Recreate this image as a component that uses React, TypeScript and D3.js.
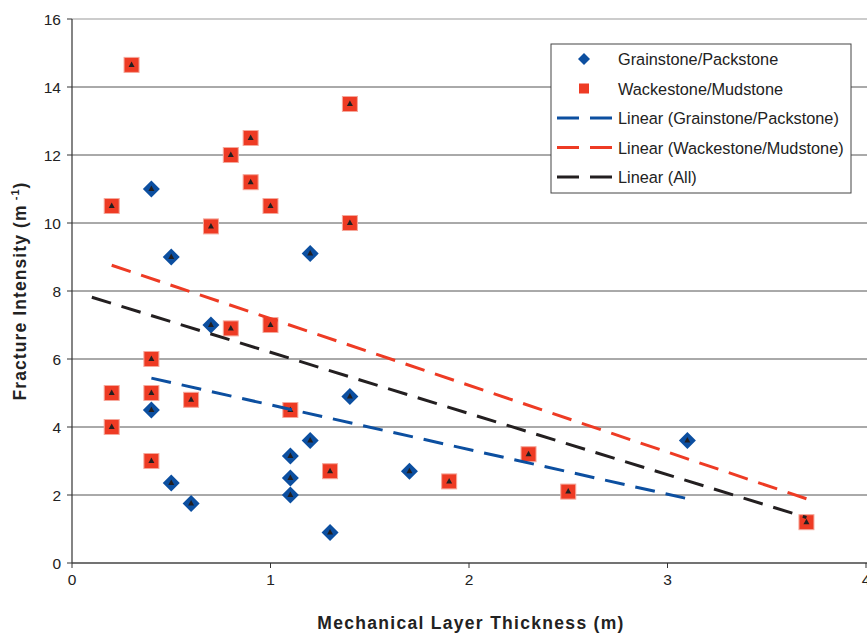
import React from "react";
import * as d3 from "d3";

// Grainstone / Packstone samples: layer thickness (m) and fracture intensity (1/m)
const grainX = [0.4, 0.5, 1.2, 0.7, 0.4, 1.4, 1.2, 1.1, 1.1, 1.1, 0.5, 0.6, 1.3, 1.7, 3.1];
const grainY = [11.0, 9.0, 9.1, 7.0, 4.5, 4.9, 3.6, 3.15, 2.5, 2.0, 2.35, 1.75, 0.9, 2.7, 3.6];

// Wackestone / Mudstone samples
const wackeX = [0.3, 1.4, 0.9, 0.8, 0.9, 0.2, 1.0, 0.7, 1.4, 0.8, 1.0, 0.4, 0.2, 0.4, 0.6, 0.2, 1.1, 0.4, 1.3, 1.9, 2.3, 2.5, 3.7];
const wackeY = [14.65, 13.5, 12.5, 12.0, 11.2, 10.5, 10.5, 9.9, 10.0, 6.9, 7.0, 6.0, 5.0, 5.0, 4.8, 4.0, 4.5, 3.0, 2.7, 2.4, 3.2, 2.1, 1.2];

const xTicks = [0, 1, 2, 3, 4];
const yTicks = [0, 2, 4, 6, 8, 10, 12, 14, 16];

// backward forecast of the combined trend line
const allTrendStart = 0.1;

const BLUE = "#0C4FA0";
const RED = "#EE3B24";
const BLACK = "#231F20";
const FONT = "'Liberation Sans', Arial, sans-serif";

type Pt = { x: number; y: number };

function zip(xs: number[], ys: number[]): Pt[] {
  return xs.map((x, i) => ({ x, y: ys[i] }));
}

function linearFit(pts: Pt[]) {
  const mx = d3.mean(pts, (p) => p.x) as number;
  const my = d3.mean(pts, (p) => p.y) as number;
  const sxy = d3.sum(pts, (p) => (p.x - mx) * (p.y - my));
  const sxx = d3.sum(pts, (p) => (p.x - mx) ** 2);
  const slope = sxy / sxx;
  return { slope, intercept: my - slope * mx };
}

export default function App() {
  const W = 867;
  const H = 633;
  const left = 72;
  const right = 866;
  const top = 19;
  const bottom = 563;

  const x = d3.scaleLinear().domain([0, 4]).range([left, right]);
  const y = d3.scaleLinear().domain([0, 16]).range([bottom, top]);

  const grain = zip(grainX, grainY);
  const wacke = zip(wackeX, wackeY);
  const all = [...grain, ...wacke];

  const trend = (pts: Pt[], x0: number, x1: number) => {
    const f = linearFit(pts);
    return [x0, x1].map((v) => ({ x: v, y: f.intercept + f.slope * v }));
  };
  const line = d3
    .line<Pt>()
    .x((p) => x(p.x))
    .y((p) => y(p.y));

  const grainTrend = trend(grain, d3.min(grainX)!, d3.max(grainX)!);
  const wackeTrend = trend(wacke, d3.min(wackeX)!, d3.max(wackeX)!);
  const allTrend = trend(all, allTrendStart, d3.max([...grainX, ...wackeX])!);

  const dash = "20 11";
  const diamond = (cx: number, cy: number, r = 8.5) =>
    `M${cx},${cy - r}L${cx + r},${cy}L${cx},${cy + r}L${cx - r},${cy}Z`;
  const tri = (cx: number, cy: number) =>
    `M${cx},${cy - 3.5}L${cx + 3},${cy + 2}L${cx - 3},${cy + 2}Z`;

  const lx = 551;
  const ly = 44;
  const legendRows = [
    { label: "Grainstone/Packstone", kind: "diamond", color: BLUE },
    { label: "Wackestone/Mudstone", kind: "square", color: RED },
    { label: "Linear (Grainstone/Packstone)", kind: "line", color: BLUE },
    { label: "Linear (Wackestone/Mudstone)", kind: "line", color: RED },
    { label: "Linear (All)", kind: "line", color: BLACK },
  ];

  return (
    <svg width={W} height={H} style={{ position: "absolute", left: 0, top: 0, background: "#fff" }} fontFamily={FONT}>
      <rect width={W} height={H} fill="#fff" />
      {/* gridlines */}
      {yTicks.slice(1).map((t) => (
        <line key={t} x1={left} x2={right + 1} y1={y(t)} y2={y(t)} stroke={t === 16 ? "#999" : "#555"} strokeWidth={1} />
      ))}
      {/* axes */}
      <line x1={left} x2={left} y1={top} y2={bottom} stroke="#333" strokeWidth={1.2} />
      <line x1={left} x2={right + 1} y1={bottom} y2={bottom} stroke="#444" strokeWidth={1.5} />
      {yTicks.map((t) => (
        <g key={t}>
          <line x1={left - 5} x2={left} y1={y(t)} y2={y(t)} stroke="#333" />
          <text x={left - 11} y={y(t) + 5.5} textAnchor="end" fontSize={15.5} fill="#222">
            {t}
          </text>
        </g>
      ))}
      {xTicks.map((t) => (
        <g key={t}>
          <line x1={x(t)} x2={x(t)} y1={bottom} y2={bottom + 5} stroke="#333" />
          <text x={x(t)} y={bottom + 22} textAnchor="middle" fontSize={15.5} fill="#222">
            {t}
          </text>
        </g>
      ))}

      {/* markers */}
      {grain.map((p, i) => (
        <path key={"g" + i} d={diamond(x(p.x), y(p.y))} fill={BLUE} />
      ))}
      {wacke.map((p, i) => (
        <rect
          key={"w" + i}
          x={x(p.x) - 7.5}
          y={y(p.y) - 7.5}
          width={15}
          height={15}
          fill={RED}
          stroke="#F6A89C"
          strokeWidth={1}
        />
      ))}
      {all.map((p, i) => (
        <path key={"a" + i} d={tri(x(p.x), y(p.y))} fill={BLACK} />
      ))}

      {/* trend lines */}
      <path d={line(grainTrend)!} fill="none" stroke={BLUE} strokeWidth={3} strokeDasharray={dash} />
      <path d={line(wackeTrend)!} fill="none" stroke={RED} strokeWidth={3} strokeDasharray={dash} />
      <path d={line(allTrend)!} fill="none" stroke={BLACK} strokeWidth={3} strokeDasharray={dash} />

      {/* legend */}
      <rect x={lx} y={ly} width={300} height={149} fill="#fff" stroke="#444" strokeWidth={1} />
      {legendRows.map((r, i) => {
        const cy = ly + 15 + i * 29.5;
        return (
          <g key={r.label}>
            {r.kind === "diamond" && <path d={diamond(584, cy, 6)} fill={r.color} />}
            {r.kind === "square" && <rect x={579} y={cy - 5} width={10} height={10} fill={r.color} />}
            {r.kind === "line" && (
              <line x1={557} x2={612} y1={cy} y2={cy} stroke={r.color} strokeWidth={3} strokeDasharray="22 11" />
            )}
            <text x={618} y={cy + 6} fontSize={16.3} fill="#222">
              {r.label}
            </text>
          </g>
        );
      })}

      {/* axis titles */}
      <text x={471} y={629} textAnchor="middle" fontSize={17.5} fontWeight="bold" letterSpacing={1.3} fill="#222">
        Mechanical Layer Thickness (m)
      </text>
      <text transform={`translate(26,291) rotate(-90)`} textAnchor="middle" fontSize={17.5} fontWeight="bold" letterSpacing={1.1} fill="#222">
        Fracture Intensity (m
        <tspan dx={4} fontSize={11} dy={-7}>
          -1
        </tspan>
        <tspan dy={7}>)</tspan>
      </text>
    </svg>
  );
}
